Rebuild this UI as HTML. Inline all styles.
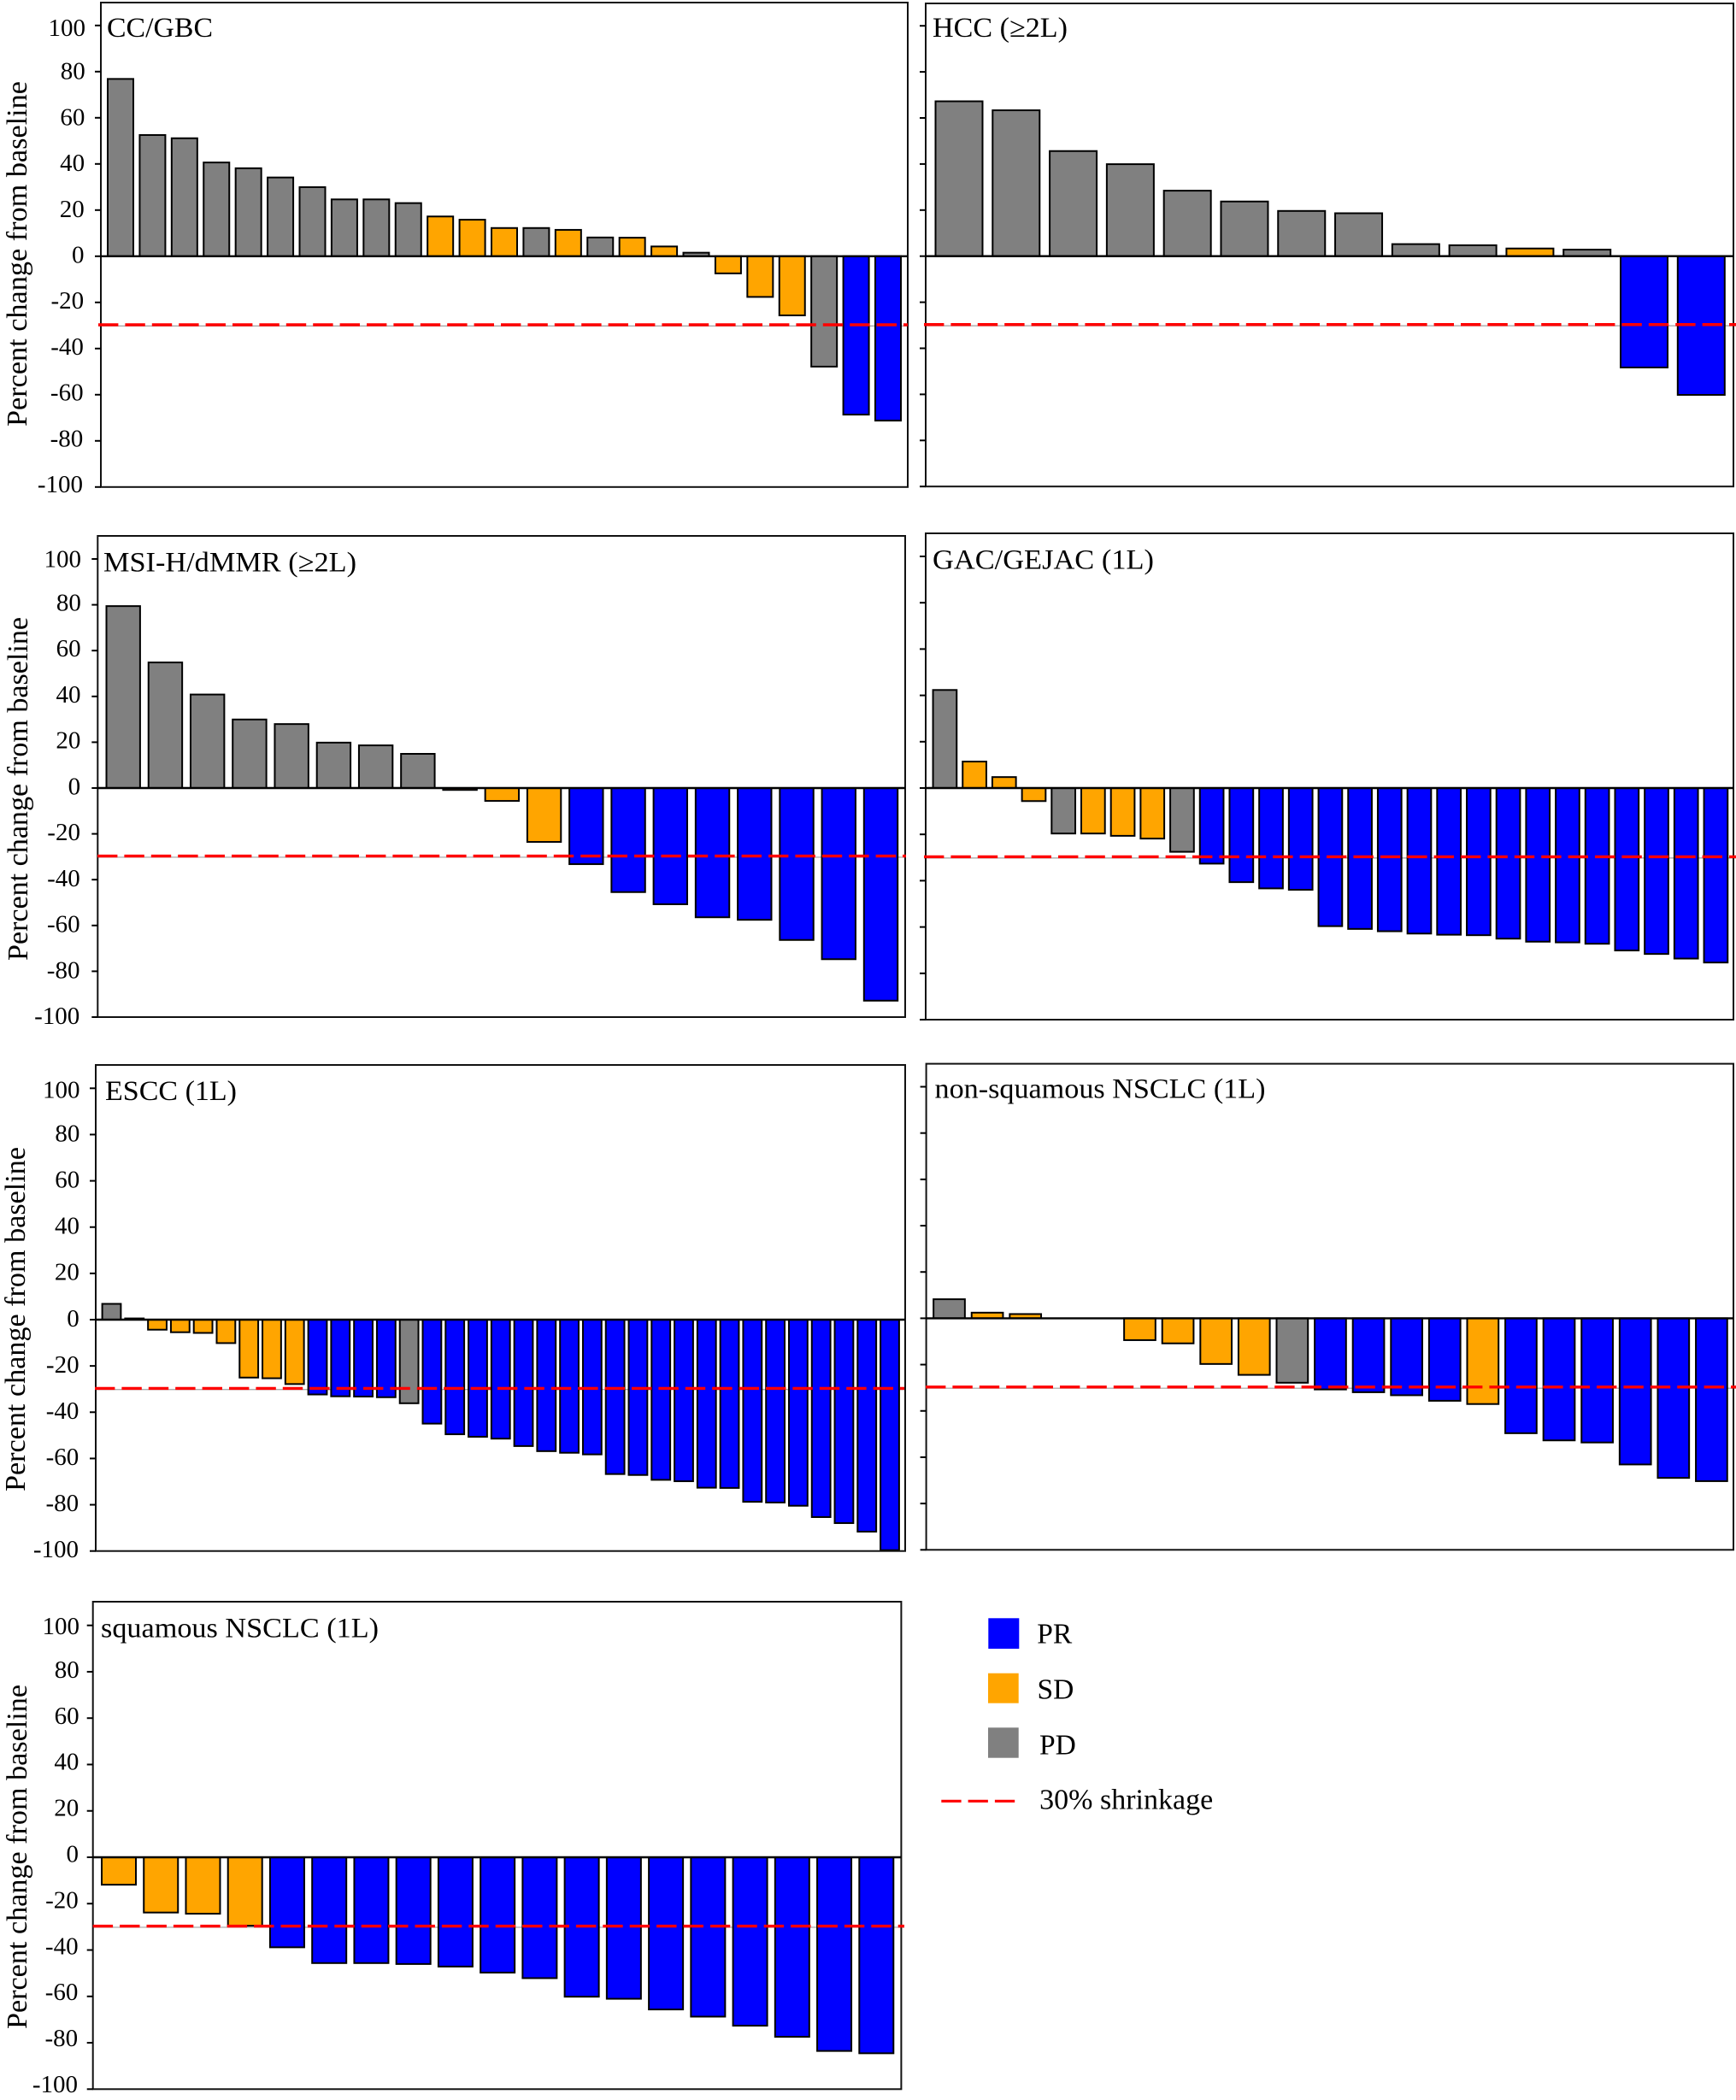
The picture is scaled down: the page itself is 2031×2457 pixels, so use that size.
<!DOCTYPE html>
<html lang="en">
<head>
<meta charset="utf-8">
<title>Percent change from baseline by tumor type</title>
<style>
  html, body { margin: 0; padding: 0; background: #fff; }
  svg { display: block; font-family: "Liberation Serif", "Noto Serif CJK SC", serif; fill: #000; }
</style>
</head>
<body>
<svg id="figure" xmlns="http://www.w3.org/2000/svg" width="2031" height="2457" viewBox="0 0 2031 2457">
  <g id="plots"></g>

  <text x="125" y="43" font-size="33" textLength="124" lengthAdjust="spacingAndGlyphs">CC/GBC</text>
  <text x="1091" y="43" font-size="33" textLength="158" lengthAdjust="spacingAndGlyphs">HCC (≥2L)</text>
  <text x="121" y="668.5" font-size="33" textLength="296" lengthAdjust="spacingAndGlyphs">MSI-H/dMMR (≥2L)</text>
  <text x="1091" y="665.5" font-size="33" textLength="259" lengthAdjust="spacingAndGlyphs">GAC/GEJAC (1L)</text>
  <text x="123" y="1287" font-size="33" textLength="154" lengthAdjust="spacingAndGlyphs">ESCC (1L)</text>
  <text x="1093.5" y="1284.5" font-size="33" textLength="387" lengthAdjust="spacingAndGlyphs">non-squamous NSCLC (1L)</text>
  <text x="118" y="1915.5" font-size="33" textLength="325" lengthAdjust="spacingAndGlyphs">squamous NSCLC (1L)</text>

  <text transform="translate(31 499) rotate(-90)" font-size="34.2" textLength="404" lengthAdjust="spacingAndGlyphs">Percent change from baseline</text>
  <text transform="translate(32 1124) rotate(-90)" font-size="34.2" textLength="402" lengthAdjust="spacingAndGlyphs">Percent change from baseline</text>
  <text transform="translate(29 1745) rotate(-90)" font-size="34.2" textLength="403" lengthAdjust="spacingAndGlyphs">Percent change from baseline</text>
  <text transform="translate(31 2374) rotate(-90)" font-size="34.2" textLength="403" lengthAdjust="spacingAndGlyphs">Percent change from baseline</text>

  <g>
    <rect x="1156.3" y="1893.3" width="36" height="35.7" fill="#0000ff"/>
    <text x="1213.3" y="1922.7" font-size="33.5">PR</text>
    <rect x="1156" y="1957.7" width="35.7" height="35" fill="#ffa500"/>
    <text x="1213.5" y="1987.7" font-size="33.5">SD</text>
    <rect x="1156" y="2021.3" width="35.7" height="35.4" fill="#808080"/>
    <text x="1216" y="2052.3" font-size="33.5">PD</text>
    <line x1="1101.3" y1="2107.3" x2="1187.3" y2="2107.3" stroke="#ff0000" stroke-width="3.2" stroke-dasharray="23.3 8"/>
    <text x="1216.2" y="2116.5" font-size="33.5" textLength="203" lengthAdjust="spacingAndGlyphs">30% shrinkage</text>
  </g>
</svg>

<script>
// Tick values and the printed labels
const tickValues = [100, 80, 60, 40, 20, 0, -20, -40, -60, -80, -100];
const tickLabels = ["100", "80", "60", "40", "20", "0", "-20", "-40", "-60", "-80", "-100"];
const shrinkageThreshold = -29.7;
const shrinkageGuide = -30.2;

// Response categories
const responseCategories = ["PR", "SD", "PD"];
const categoryColors = { PR: "#0000ff", SD: "#ffa500", PD: "#808080" };

// CC/GBC
const ccGbcValues = [77.2, 52.9, 51.5, 41, 38.5, 34.5, 30.3, 25, 25, 23.4, 17.6, 16.2, 12.6, 12.6, 11.8, 8.5, 8.4, 4.6, 1.9, -7.8, -18, -26, -48.2, -69, -71.6];
const ccGbcResponses = ["PD","PD","PD","PD","PD","PD","PD","PD","PD","PD","SD","SD","SD","PD","SD","PD","SD","SD","PD","SD","SD","SD","PD","PR","PR"];

// HCC
const hccValues = [67.6, 63.7, 46, 40.3, 28.8, 24.1, 20, 19, 5.6, 5.1, 3.7, 3.2, -48.7, -60.6];
const hccResponses = ["PD","PD","PD","PD","PD","PD","PD","PD","PD","PD","SD","PD","PR","PR"];

// MSI-H/dMMR
const msiValues = [79.8, 55.2, 41.2, 30.3, 28.3, 20.2, 19, 15.3, -1.2, -6, -23.9, -33.6, -45.8, -51.1, -56.8, -57.9, -66.7, -75.1, -93.2];
const msiResponses = ["PD","PD","PD","PD","PD","PD","PD","PD","SD","SD","SD","PR","PR","PR","PR","PR","PR","PR","PR"];

// GAC/GEJAC
const gacValues = [42.7, 11.8, 5.1, -6, -20, -20, -21, -22.2, -27.9, -33, -41, -43.7, -44.3, -60, -61.2, -62.2, -63.2, -63.7, -63.9, -65.4, -66.7, -67, -67.6, -70.5, -72, -74, -75.7];
const gacResponses = ["PD","SD","SD","SD","PD","SD","SD","SD","PD","PR","PR","PR","PR","PR","PR","PR","PR","PR","PR","PR","PR","PR","PR","PR","PR","PR","PR"];

// ESCC
const esccValues = [7.2, 0.9, -4.7, -5.8, -6.1, -10.5, -25.4, -25.7, -28.2, -32.7, -33.5, -33.6, -33.9, -36.5, -45.3, -49.9, -51, -51.8, -55, -57.2, -57.9, -58.6, -67.1, -67.5, -69.6, -70.2, -73, -73.1, -79.1, -79.4, -80.8, -85.7, -88.3, -92, -100];
const esccResponses = ["PD","SD","SD","SD","SD","SD","SD","SD","SD","PR","PR","PR","PR","PD","PR","PR","PR","PR","PR","PR","PR","PR","PR","PR","PR","PR","PR","PR","PR","PR","PR","PR","PR","PR","PR"];

// non-squamous NSCLC
const nonSquamousValues = [8.6, 2.8, 2.2, 0.2, 0.1, -9.8, -11.2, -20.1, -24.8, -28.2, -31.1, -32.3, -33.6, -36, -37.4, -50, -53.1, -54, -63.5, -69.3, -70.7];
const nonSquamousResponses = ["PD","SD","SD","SD","SD","SD","SD","SD","SD","PD","PR","PR","PR","PR","SD","PR","PR","PR","PR","PR","PR"];

// squamous NSCLC
const squamousValues = [-12.2, -24.2, -24.7, -29.9, -39.2, -46, -46, -46.4, -47.5, -50.1, -52.5, -60.5, -61.4, -66, -69.1, -73, -77.8, -83.9, -84.9];
const squamousResponses = ["SD","SD","SD","SD","PR","PR","PR","PR","PR","PR","PR","PR","PR","PR","PR","PR","PR","PR","PR"];

// Panel frames (layout only; data comes from the arrays above)
const panels = [
  { key: "cc-gbc", values: ccGbcValues, responses: ccGbcResponses, left: 118, right: 1062, top: 3, zero: 299.8, unit: 2.7, firstX: 141, lastX: 1039, barW: 32, lineL: 115, lineR: 1062, labels: { rTop: 100, rBot: 97, yTop: 39, yBot: 576 } },
  { key: "hcc", values: hccValues, responses: hccResponses, left: 1083, right: 2028, top: 4, zero: 299.7, unit: 2.695, firstX: 1122, lastX: 1990.3, barW: 57, lineL: 1081, lineR: 2031, labels: null },
  { key: "msi-h", values: msiValues, responses: msiResponses, left: 114.3, right: 1059, top: 627, zero: 922, unit: 2.68, firstX: 144.2, lastX: 1030.5, barW: 41.4, lineL: 114, lineR: 1060, labels: { rTop: 95, rBot: 93.3, yTop: 660.5, yBot: 1198 } },
  { key: "gac", values: gacValues, responses: gacResponses, left: 1083, right: 2028, top: 624, zero: 922, unit: 2.71, firstX: 1105.4, lastX: 2007.4, barW: 29.7, lineL: 1081, lineR: 2031, labels: null },
  { key: "escc", values: esccValues, responses: esccResponses, left: 112, right: 1059, top: 1246, zero: 1544, unit: 2.707, firstX: 130.5, lastX: 1041, barW: 23.8, lineL: 111, lineR: 1058, labels: { rTop: 93.5, rBot: 92, yTop: 1281.5, yBot: 1822 } },
  { key: "non-squamous", values: nonSquamousValues, responses: nonSquamousResponses, left: 1083.6, right: 2028, top: 1244.6, zero: 1542.4, unit: 2.709, firstX: 1110.5, lastX: 2002.4, barW: 38.7, lineL: 1083, lineR: 2031, labels: null },
  { key: "squamous", values: squamousValues, responses: squamousResponses, left: 108.7, right: 1054.4, top: 1874, zero: 2173, unit: 2.713, firstX: 139, lastX: 1025.3, barW: 42, lineL: 108.7, lineR: 1058, labels: { rTop: 93, rBot: 91, yTop: 1909, yBot: 2448 } }
];

const NS = "http://www.w3.org/2000/svg";
const plots = document.getElementById("plots");

function make(tag, parent, attrs) {
  const el = document.createElementNS(NS, tag);
  for (const k in attrs) el.setAttribute(k, attrs[k]);
  parent.appendChild(el);
  return el;
}

function yScale(p, v) { return p.zero - v * p.unit; }
function xScale(p, i) { return p.firstX + i * (p.lastX - p.firstX) / (p.values.length - 1); }

panels.forEach(function (p) {
  const g = make("g", plots, {});
  
  

  const bottomY = yScale(p, -100);

  const guide = make("line", g, {
    x1: p.lineL, x2: p.lineR, y1: yScale(p, shrinkageGuide), y2: yScale(p, shrinkageGuide),
    stroke: "#a0a0a0", "stroke-width": 1.2
  });
  
  

  const bars = make("g", g, {});
  
  

  p.values.forEach(function (v, i) {
    const cx = xScale(p, i);
    const y0 = yScale(p, 0);
    const y1 = yScale(p, v);
    // Inset by half the stroke so the outer edge lands on the value
    const h = Math.max(Math.abs(y1 - y0) - 1, 0);
    const bar = make("rect", bars, {
      x: cx - p.barW / 2 + 1,
      y: v >= 0 ? y0 - h : y0,
      width: p.barW - 2,
      height: h,
      fill: categoryColors[p.responses[i]],
      stroke: "#000",
      "stroke-width": 2
    });
    
    
  });

  const frame = make("rect", g, {
    x: p.left, y: p.top, width: p.right - p.left, height: bottomY - p.top,
    fill: "none", stroke: "#111", "stroke-width": 2
  });
  
  

  const zeroLine = make("line", g, {
    x1: p.left, x2: p.right, y1: yScale(p, 0), y2: yScale(p, 0),
    stroke: "#000", "stroke-width": 2.4
  });
  
  

  tickValues.forEach(function (t, i) {
    const tick = make("line", g, {
      x1: p.left - 7, x2: p.left, y1: yScale(p, t), y2: yScale(p, t),
      stroke: "#000", "stroke-width": 2
    });
    
    

    if (p.labels) {
      const f = (100 - t) / 200;
      const label = make("text", g, {
        x: p.labels.rTop + (p.labels.rBot - p.labels.rTop) * f,
        y: p.labels.yTop + (p.labels.yBot - p.labels.yTop) * f + (i === 0 ? 3 : 0),
        "text-anchor": "end",
        "font-size": 29
      });
      label.textContent = tickLabels[i];
      
      
    }
  });

  const refLine = make("line", g, {
    x1: p.lineL, x2: p.lineR, y1: yScale(p, shrinkageThreshold), y2: yScale(p, shrinkageThreshold),
    stroke: "#ff0000", "stroke-width": 3.4, "stroke-dasharray": "23.4 8"
  });
  
  
});
</script>
</body>
</html>
